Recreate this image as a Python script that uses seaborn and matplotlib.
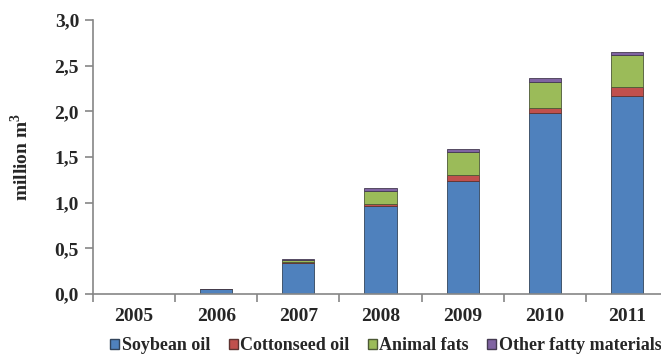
import matplotlib
matplotlib.use("Agg")
import matplotlib.pyplot as plt
import numpy as np
import seaborn as sns
from matplotlib.patches import Patch

years = ["2005", "2006", "2007", "2008", "2009", "2010", "2011"]
soybean = [0.0, 0.05, 0.34, 0.96, 1.24, 1.98, 2.17]
cottonseed = [0.0, 0.0, 0.005, 0.03, 0.06, 0.06, 0.10]
animal_fats = [0.0, 0.005, 0.03, 0.14, 0.26, 0.28, 0.35]
other_fatty = [0.0, 0.005, 0.01, 0.03, 0.03, 0.04, 0.03]

series = [
    ("Soybean oil", soybean, "#4F81BD"),
    ("Cottonseed oil", cottonseed, "#C0504D"),
    ("Animal fats", animal_fats, "#9BBB59"),
    ("Other fatty materials", other_fatty, "#8064A2"),
]

sns.set_theme(style="ticks")
plt.rcParams["font.family"] = ["Liberation Serif", "DejaVu Serif"]
plt.rcParams["font.weight"] = "bold"
plt.rcParams["mathtext.fontset"] = "custom"
plt.rcParams["mathtext.rm"] = "Liberation Serif:bold"
plt.rcParams["mathtext.bf"] = "Liberation Serif:bold"

fig = plt.figure(figsize=(6.61, 3.58), dpi=100)
ax = fig.add_axes([93 / 661, 64 / 358, 575 / 661, 274 / 358])

bottom = np.zeros(len(years))
for name, vals, col in series:
    vals = np.array(vals)
    sns.barplot(x=years, y=vals, bottom=bottom, color=col, width=0.39,
                edgecolor=sns.dark_palette(col, 4)[1], linewidth=0.6,
                saturation=1, ax=ax)
    bottom = bottom + vals

ax.set_ylim(0, 3.0)
ax.set_xlim(-0.5, 6.5)
ax.set_yticks(np.arange(0, 3.01, 0.5))
ax.set_yticklabels([f"{v:.1f}".replace(".", ",") for v in np.arange(0, 3.01, 0.5)],
                   fontsize=14, fontweight="bold")
ax.set_xticks(range(len(years)))
ax.set_xticklabels(years, fontsize=14, fontweight="bold")
ax.set_xticks(np.arange(-0.5, 7, 1), minor=True)
ax.tick_params(axis="x", which="major", length=0, pad=10)
ax.tick_params(axis="x", which="minor", length=6, color="#868686", width=1.2,
               direction="out", bottom=True)
ax.tick_params(axis="y", which="major", length=6, color="#868686", width=1.2,
               direction="out", left=True, pad=4)
ax.set_ylabel(r"million m$^{\mathbf{3}}$", fontsize=14, fontweight="bold", labelpad=16)

for s in ["top", "right"]:
    ax.spines[s].set_visible(False)
for s in ["left", "bottom"]:
    ax.spines[s].set_color("#868686")
    ax.spines[s].set_linewidth(1.2)

handles = [Patch(facecolor=c, edgecolor=sns.dark_palette(c, 4)[1], label=n) for n, _, c in series]
fig.legend(handles=handles, loc="center", bbox_to_anchor=(386 / 661, 1 - 346 / 358), ncol=4,
           frameon=False, handlelength=0.5, handleheight=0.5,
           handletextpad=0.15, columnspacing=1.0, prop={"weight": "bold", "size": 13})

fig.savefig("out.png", dpi=100)
